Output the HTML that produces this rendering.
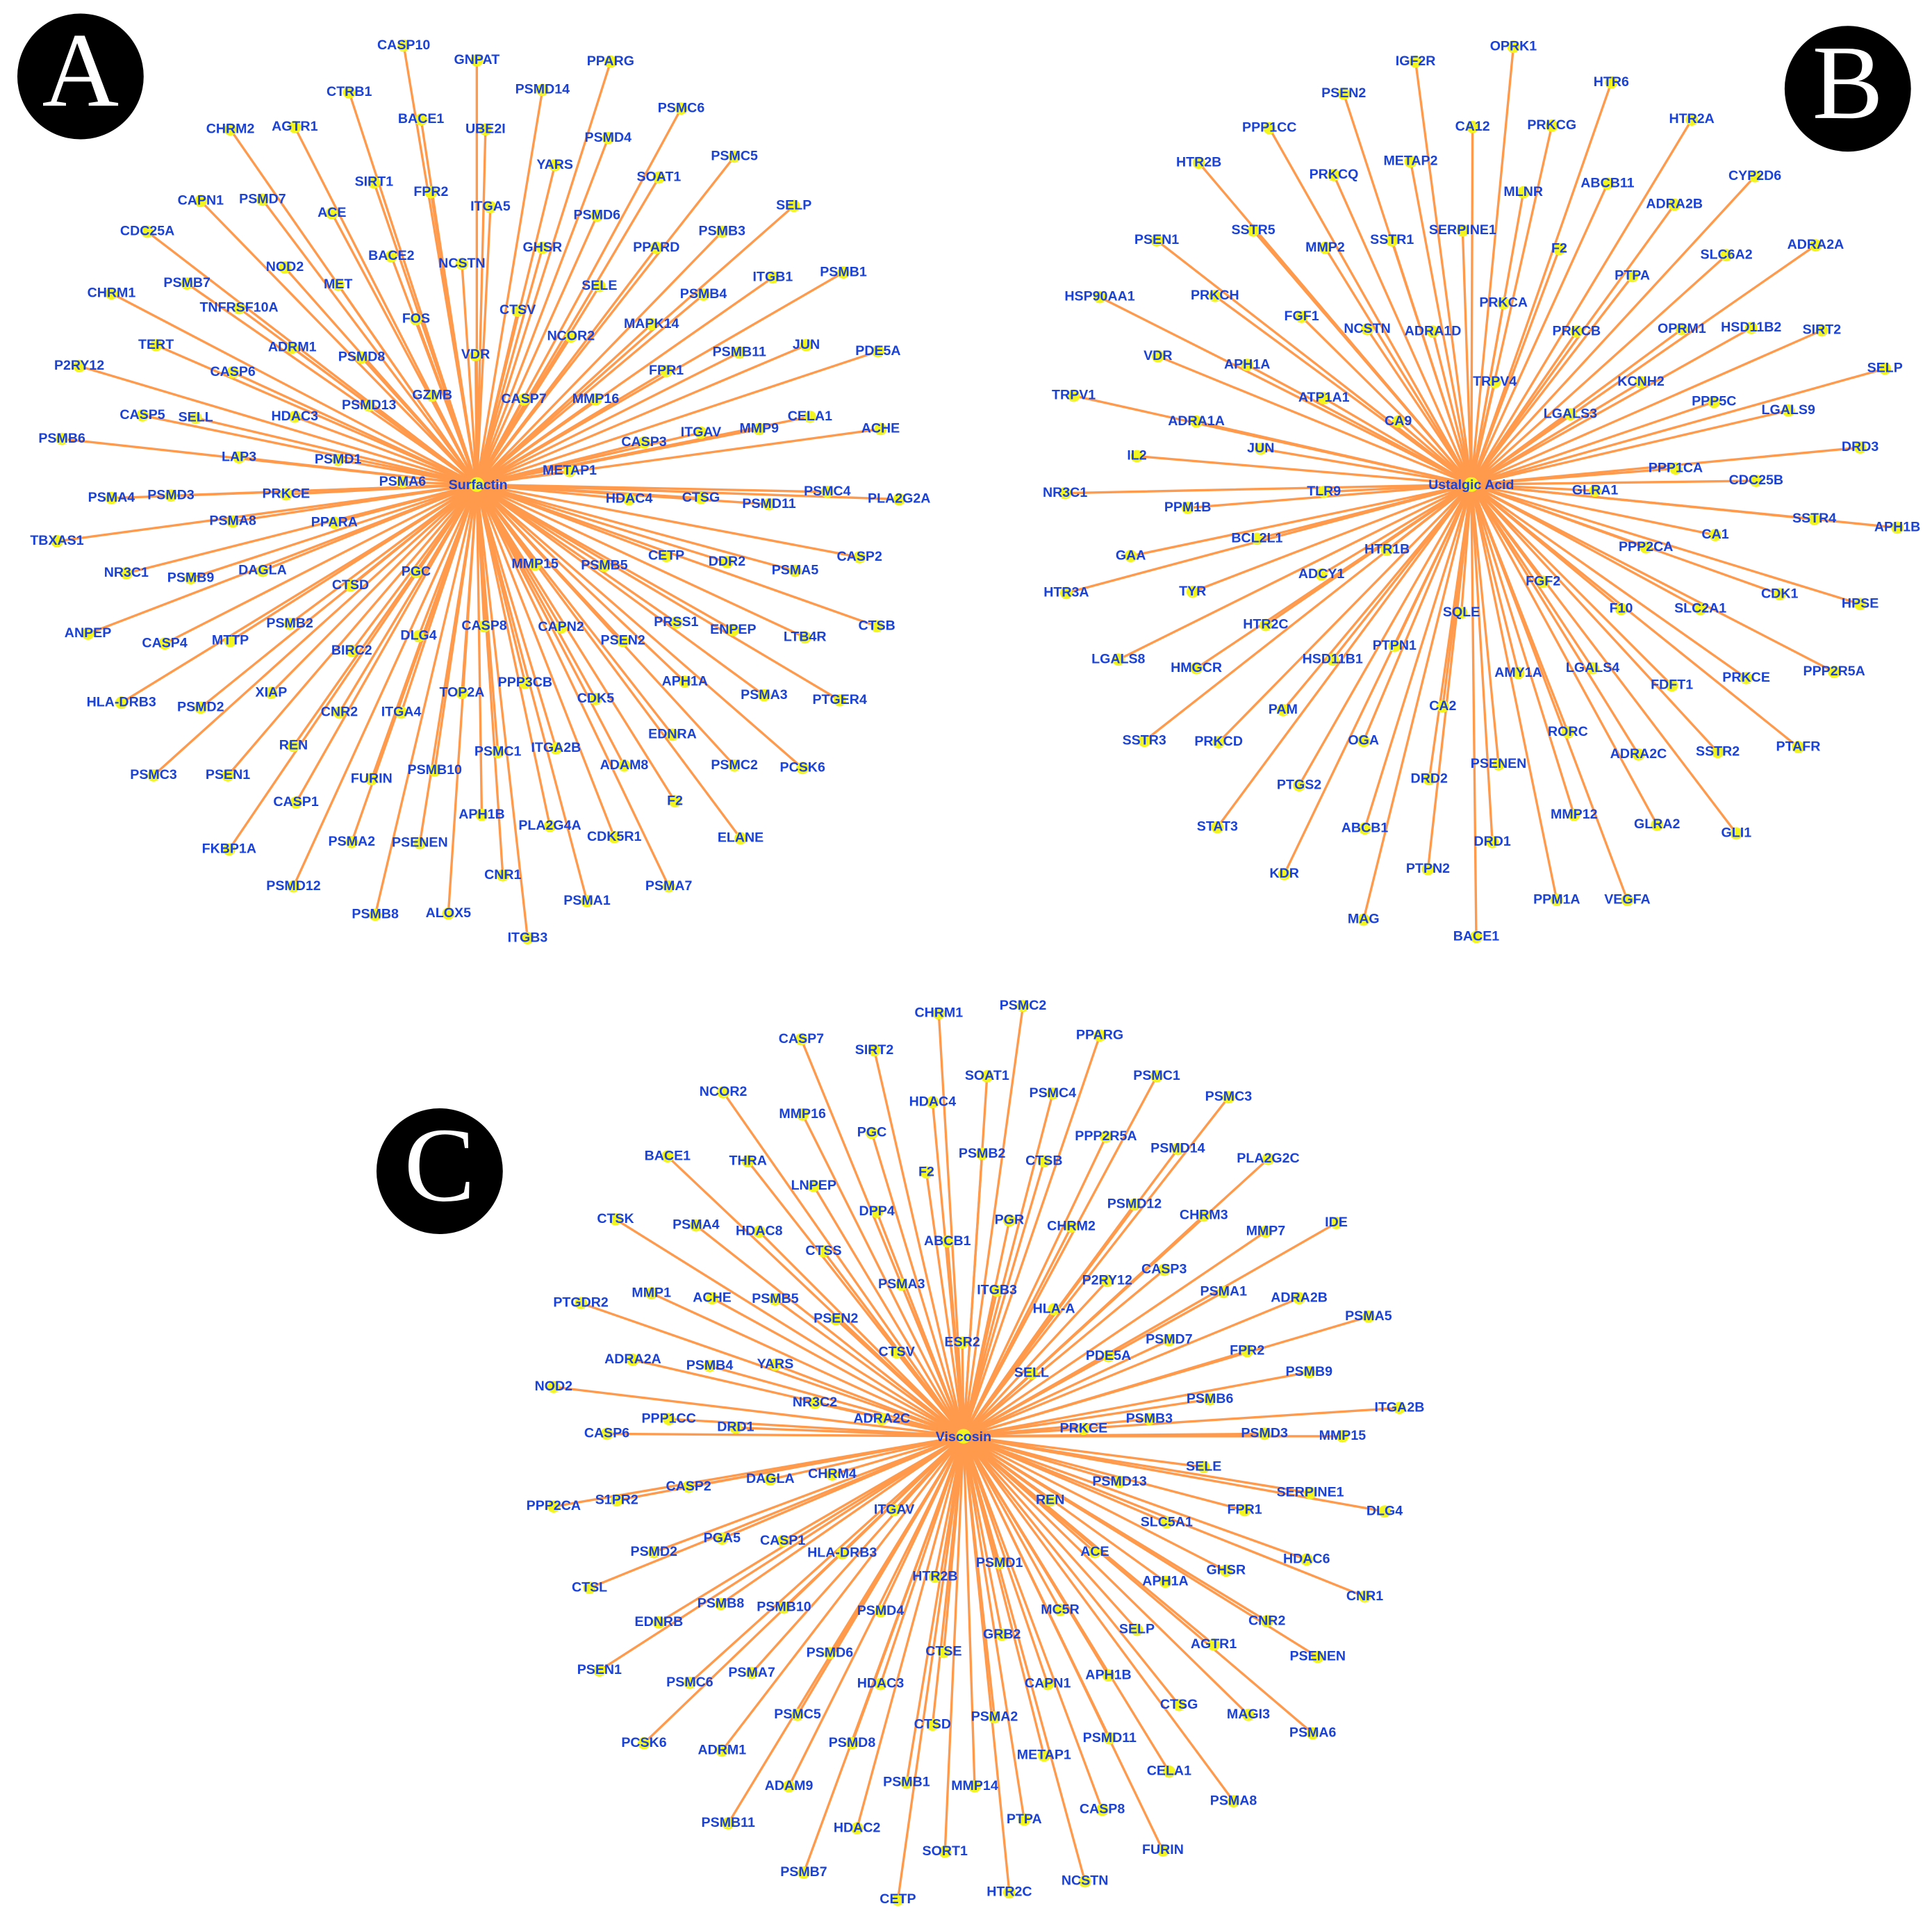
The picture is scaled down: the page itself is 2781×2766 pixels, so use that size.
<!DOCTYPE html>
<html><head><meta charset="utf-8">
<style>
html,body{margin:0;padding:0;background:#fff;}
svg{display:block;}
text{font-family:"Liberation Sans",sans-serif;font-weight:bold;font-size:11px;fill:#1b42d6;text-anchor:middle;dominant-baseline:middle;}
text.big{font-family:"Liberation Serif",serif;font-weight:normal;font-size:86px;fill:#fff;}
</style></head>
<body>
<svg id="s" width="2781" height="2766" viewBox="0 0 1560 1559" preserveAspectRatio="none" xmlns="http://www.w3.org/2000/svg">
<g id="lines" stroke="#ff9a4c" stroke-width="1.9" stroke-linecap="round"></g>
<g id="dots" fill="#f3f520"></g>
<g id="A" data-cx="385" data-cy="393">
<text x="326" y="37">CASP10</text><text x="385" y="49">GNPAT</text><text x="493" y="50">PPARG</text><text x="438" y="73">PSMD14</text><text x="282" y="75">CTRB1</text><text x="340" y="97">BACE1</text><text x="392" y="105">UBE2I</text><text x="550" y="88">PSMC6</text><text x="186" y="105">CHRM2</text><text x="238" y="103">AGTR1</text><text x="491" y="112">PSMD4</text><text x="448" y="134">YARS</text><text x="593" y="127">PSMC5</text><text x="302" y="148">SIRT1</text><text x="348" y="156">FPR2</text><text x="532" y="144">SOAT1</text><text x="162" y="163">CAPN1</text><text x="212" y="162">PSMD7</text><text x="396" y="168">ITGA5</text><text x="268" y="173">ACE</text><text x="482" y="175">PSMD6</text><text x="641" y="167">SELP</text><text x="119" y="188">CDC25A</text><text x="438" y="201">GHSR</text><text x="583" y="188">PSMB3</text><text x="316" y="208">BACE2</text><text x="373" y="214">NCSTN</text><text x="530" y="201">PPARD</text><text x="230" y="217">NOD2</text><text x="151" y="230">PSMB7</text><text x="273" y="231">MET</text><text x="484" y="232">SELE</text><text x="624" y="225">ITGB1</text><text x="681" y="221">PSMB1</text><text x="90" y="238">CHRM1</text><text x="193" y="250">TNFRSF10A</text><text x="568" y="239">PSMB4</text><text x="418" y="252">CTSV</text><text x="336" y="259">FOS</text><text x="461" y="273">NCOR2</text><text x="526" y="263">MAPK14</text><text x="126" y="280">TERT</text><text x="236" y="282">ADRM1</text><text x="292" y="290">PSMD8</text><text x="384" y="288">VDR</text><text x="651" y="280">JUN</text><text x="709" y="285">PDE5A</text><text x="64" y="297">P2RY12</text><text x="188" y="302">CASP6</text><text x="597" y="286">PSMB11</text><text x="538" y="301">FPR1</text><text x="349" y="321">GZMB</text><text x="298" y="329">PSMD13</text><text x="423" y="324">CASP7</text><text x="481" y="324">MMP16</text><text x="115" y="337">CASP5</text><text x="158" y="339">SELL</text><text x="238" y="338">HDAC3</text><text x="654" y="338">CELA1</text><text x="50" y="356">PSMB6</text><text x="566" y="351">ITGAV</text><text x="613" y="348">MMP9</text><text x="711" y="348">ACHE</text><text x="193" y="371">LAP3</text><text x="273" y="373">PSMD1</text><text x="520" y="359">CASP3</text><text x="325" y="391">PSMA6</text><text x="460" y="382">METAP1</text><text x="90" y="404">PSMA4</text><text x="138" y="402">PSMD3</text><text x="231" y="401">PRKCE</text><text x="668" y="399">PSMC4</text><text x="726" y="405">PLA2G2A</text><text x="508" y="405">HDAC4</text><text x="566" y="404">CTSG</text><text x="621" y="409">PSMD11</text><text x="188" y="423">PSMA8</text><text x="270" y="424">PPARA</text><text x="46" y="439">TBXAS1</text><text x="538" y="451">CETP</text><text x="587" y="456">DDR2</text><text x="694" y="452">CASP2</text><text x="102" y="465">NR3C1</text><text x="154" y="469">PSMB9</text><text x="212" y="463">DAGLA</text><text x="336" y="464">PGC</text><text x="432" y="458">MMP15</text><text x="488" y="459">PSMB5</text><text x="642" y="463">PSMA5</text><text x="283" y="475">CTSD</text><text x="71" y="514">ANPEP</text><text x="133" y="522">CASP4</text><text x="186" y="520">MTTP</text><text x="234" y="506">PSMB2</text><text x="338" y="516">DLG4</text><text x="391" y="508">CASP8</text><text x="453" y="509">CAPN2</text><text x="546" y="505">PRSS1</text><text x="592" y="511">ENPEP</text><text x="650" y="517">LTB4R</text><text x="708" y="508">CTSB</text><text x="284" y="528">BIRC2</text><text x="503" y="520">PSEN2</text><text x="98" y="570">HLA-DRB3</text><text x="219" y="562">XIAP</text><text x="162" y="574">PSMD2</text><text x="373" y="562">TOP2A</text><text x="424" y="554">PPP3CB</text><text x="481" y="567">CDK5</text><text x="553" y="553">APH1A</text><text x="617" y="564">PSMA3</text><text x="678" y="568">PTGER4</text><text x="274" y="578">CNR2</text><text x="324" y="578">ITGA4</text><text x="543" y="596">EDNRA</text><text x="237" y="605">REN</text><text x="300" y="632">FURIN</text><text x="351" y="625">PSMB10</text><text x="402" y="610">PSMC1</text><text x="449" y="607">ITGA2B</text><text x="504" y="621">ADAM8</text><text x="593" y="621">PSMC2</text><text x="648" y="623">PCSK6</text><text x="124" y="629">PSMC3</text><text x="184" y="629">PSEN1</text><text x="239" y="651">CASP1</text><text x="545" y="650">F2</text><text x="598" y="680">ELANE</text><text x="389" y="661">APH1B</text><text x="444" y="670">PLA2G4A</text><text x="496" y="679">CDK5R1</text><text x="185" y="689">FKBP1A</text><text x="284" y="683">PSMA2</text><text x="339" y="684">PSENEN</text><text x="237" y="719">PSMD12</text><text x="406" y="710">CNR1</text><text x="540" y="719">PSMA7</text><text x="474" y="731">PSMA1</text><text x="303" y="742">PSMB8</text><text x="362" y="741">ALOX5</text><text x="426" y="761">ITGB3</text>
</g>
<g id="B" data-cx="1188" data-cy="393">
<text x="1222" y="38">OPRK1</text><text x="1143" y="50">IGF2R</text><text x="1301" y="67">HTR6</text><text x="1085" y="76">PSEN2</text><text x="1189" y="103">CA12</text><text x="1253" y="102">PRKCG</text><text x="1366" y="97">HTR2A</text><text x="1025" y="104">PPP1CC</text><text x="968" y="132">HTR2B</text><text x="1139" y="131">METAP2</text><text x="1077" y="142">PRKCQ</text><text x="1230" y="156">MLNR</text><text x="1298" y="149">ABCB11</text><text x="1417" y="143">CYP2D6</text><text x="1012" y="187">SSTR5</text><text x="1181" y="187">SERPINE1</text><text x="1352" y="166">ADRA2B</text><text x="934" y="195">PSEN1</text><text x="1070" y="201">MMP2</text><text x="1124" y="195">SSTR1</text><text x="1259" y="202">F2</text><text x="1466" y="199">ADRA2A</text><text x="1394" y="207">SLC6A2</text><text x="1318" y="224">PTPA</text><text x="888" y="241">HSP90AA1</text><text x="981" y="240">PRKCH</text><text x="1214" y="246">PRKCA</text><text x="1051" y="257">FGF1</text><text x="1104" y="267">NCSTN</text><text x="1157" y="269">ADRA1D</text><text x="1273" y="269">PRKCB</text><text x="1358" y="267">OPRM1</text><text x="1414" y="266">HSD11B2</text><text x="1471" y="268">SIRT2</text><text x="935" y="289">VDR</text><text x="1007" y="296">APH1A</text><text x="1522" y="299">SELP</text><text x="1325" y="310">KCNH2</text><text x="1207" y="310">TRPV4</text><text x="867" y="321">TRPV1</text><text x="1069" y="323">ATP1A1</text><text x="1384" y="326">PPP5C</text><text x="1444" y="333">LGALS9</text><text x="1268" y="336">LGALS3</text><text x="966" y="342">ADRA1A</text><text x="1129" y="342">CA9</text><text x="1018" y="364">JUN</text><text x="1502" y="363">DRD3</text><text x="918" y="370">IL2</text><text x="1353" y="380">PPP1CA</text><text x="1418" y="390">CDC25B</text><text x="860" y="400">NR3C1</text><text x="1069" y="399">TLR9</text><text x="1288" y="398">GLRA1</text><text x="1465" y="421">SSTR4</text><text x="1532" y="428">APH1B</text><text x="959" y="412">PPM1B</text><text x="1015" y="437">BCL2L1</text><text x="1385" y="434">CA1</text><text x="1120" y="446">HTR1B</text><text x="1329" y="444">PPP2CA</text><text x="913" y="451">GAA</text><text x="1067" y="466">ADCY1</text><text x="1246" y="472">FGF2</text><text x="861" y="481">HTR3A</text><text x="963" y="480">TYR</text><text x="1437" y="482">CDK1</text><text x="1502" y="490">HPSE</text><text x="1309" y="494">F10</text><text x="1373" y="494">SLC2A1</text><text x="1180" y="497">SQLE</text><text x="1022" y="507">HTR2C</text><text x="1126" y="524">PTPN1</text><text x="903" y="535">LGALS8</text><text x="966" y="542">HMGCR</text><text x="1076" y="535">HSD11B1</text><text x="1286" y="542">LGALS4</text><text x="1410" y="550">PRKCE</text><text x="1481" y="545">PPP2R5A</text><text x="1226" y="546">AMY1A</text><text x="1350" y="556">FDFT1</text><text x="1165" y="573">CA2</text><text x="1036" y="576">PAM</text><text x="1266" y="594">RORC</text><text x="924" y="601">SSTR3</text><text x="984" y="602">PRKCD</text><text x="1101" y="601">OGA</text><text x="1323" y="612">ADRA2C</text><text x="1387" y="610">SSTR2</text><text x="1452" y="606">PTAFR</text><text x="1210" y="620">PSENEN</text><text x="1154" y="632">DRD2</text><text x="1049" y="637">PTGS2</text><text x="983" y="671">STAT3</text><text x="1102" y="672">ABCB1</text><text x="1271" y="661">MMP12</text><text x="1338" y="669">GLRA2</text><text x="1402" y="676">GLI1</text><text x="1205" y="683">DRD1</text><text x="1037" y="709">KDR</text><text x="1153" y="705">PTPN2</text><text x="1257" y="730">PPM1A</text><text x="1314" y="730">VEGFA</text><text x="1101" y="746">MAG</text><text x="1192" y="760">BACE1</text>
</g>
<g id="C" data-cx="778" data-cy="1165">
<text x="758" y="822">CHRM1</text><text x="826" y="816">PSMC2</text><text x="647" y="843">CASP7</text><text x="706" y="852">SIRT2</text><text x="888" y="840">PPARG</text><text x="934" y="873">PSMC1</text><text x="797" y="873">SOAT1</text><text x="992" y="890">PSMC3</text><text x="584" y="886">NCOR2</text><text x="753" y="894">HDAC4</text><text x="850" y="887">PSMC4</text><text x="648" y="904">MMP16</text><text x="704" y="919">PGC</text><text x="893" y="922">PPP2R5A</text><text x="951" y="932">PSMD14</text><text x="539" y="938">BACE1</text><text x="604" y="942">THRA</text><text x="793" y="936">PSMB2</text><text x="843" y="942">CTSB</text><text x="1024" y="940">PLA2G2C</text><text x="748" y="951">F2</text><text x="657" y="962">LNPEP</text><text x="916" y="977">PSMD12</text><text x="972" y="986">CHRM3</text><text x="497" y="989">CTSK</text><text x="562" y="994">PSMA4</text><text x="613" y="999">HDAC8</text><text x="708" y="983">DPP4</text><text x="815" y="990">PGR</text><text x="865" y="995">CHRM2</text><text x="1079" y="992">IDE</text><text x="1022" y="999">MMP7</text><text x="765" y="1007">ABCB1</text><text x="665" y="1015">CTSS</text><text x="940" y="1030">CASP3</text><text x="469" y="1057">PTGDR2</text><text x="526" y="1049">MMP1</text><text x="575" y="1053">ACHE</text><text x="626" y="1054">PSMB5</text><text x="728" y="1042">PSMA3</text><text x="805" y="1047">ITGB3</text><text x="894" y="1039">P2RY12</text><text x="988" y="1048">PSMA1</text><text x="1049" y="1053">ADRA2B</text><text x="851" y="1062">HLA-A</text><text x="675" y="1070">PSEN2</text><text x="1105" y="1068">PSMA5</text><text x="777" y="1089">ESR2</text><text x="944" y="1087">PSMD7</text><text x="511" y="1103">ADRA2A</text><text x="573" y="1108">PSMB4</text><text x="626" y="1107">YARS</text><text x="724" y="1097">CTSV</text><text x="1007" y="1096">FPR2</text><text x="895" y="1100">PDE5A</text><text x="833" y="1114">SELL</text><text x="1057" y="1113">PSMB9</text><text x="447" y="1125">NOD2</text><text x="658" y="1138">NR3C2</text><text x="977" y="1135">PSMB6</text><text x="1130" y="1142">ITGA2B</text><text x="540" y="1151">PPP1CC</text><text x="712" y="1151">ADRA2C</text><text x="594" y="1158">DRD1</text><text x="928" y="1151">PSMB3</text><text x="875" y="1159">PRKCE</text><text x="490" y="1163">CASP6</text><text x="1021" y="1163">PSMD3</text><text x="1084" y="1165">MMP15</text><text x="672" y="1196">CHRM4</text><text x="972" y="1190">SELE</text><text x="556" y="1206">CASP2</text><text x="622" y="1200">DAGLA</text><text x="904" y="1202">PSMD13</text><text x="1058" y="1211">SERPINE1</text><text x="447" y="1222">PPP2CA</text><text x="498" y="1217">S1PR2</text><text x="848" y="1217">REN</text><text x="1005" y="1225">FPR1</text><text x="1118" y="1226">DLG4</text><text x="722" y="1225">ITGAV</text><text x="942" y="1235">SLC5A1</text><text x="583" y="1248">PGA5</text><text x="632" y="1250">CASP1</text><text x="680" y="1260">HLA-DRB3</text><text x="884" y="1259">ACE</text><text x="528" y="1259">PSMD2</text><text x="1055" y="1265">HDAC6</text><text x="476" y="1288">CTSL</text><text x="807" y="1268">PSMD1</text><text x="990" y="1274">GHSR</text><text x="755" y="1279">HTR2B</text><text x="941" y="1283">APH1A</text><text x="1102" y="1295">CNR1</text><text x="532" y="1316">EDNRB</text><text x="582" y="1301">PSMB8</text><text x="633" y="1304">PSMB10</text><text x="711" y="1307">PSMD4</text><text x="856" y="1306">MC5R</text><text x="1023" y="1315">CNR2</text><text x="980" y="1334">AGTR1</text><text x="918" y="1322">SELP</text><text x="809" y="1326">GRB2</text><text x="1064" y="1344">PSENEN</text><text x="484" y="1355">PSEN1</text><text x="670" y="1341">PSMD6</text><text x="762" y="1340">CTSE</text><text x="895" y="1359">APH1B</text><text x="557" y="1365">PSMC6</text><text x="607" y="1357">PSMA7</text><text x="711" y="1366">HDAC3</text><text x="846" y="1366">CAPN1</text><text x="1008" y="1391">MAGI3</text><text x="952" y="1383">CTSG</text><text x="1060" y="1406">PSMA6</text><text x="520" y="1414">PCSK6</text><text x="644" y="1391">PSMC5</text><text x="583" y="1420">ADRM1</text><text x="688" y="1414">PSMD8</text><text x="753" y="1399">CTSD</text><text x="803" y="1393">PSMA2</text><text x="843" y="1424">METAP1</text><text x="896" y="1410">PSMD11</text><text x="944" y="1437">CELA1</text><text x="637" y="1449">ADAM9</text><text x="732" y="1446">PSMB1</text><text x="787" y="1449">MMP14</text><text x="996" y="1461">PSMA8</text><text x="890" y="1468">CASP8</text><text x="827" y="1476">PTPA</text><text x="588" y="1479">PSMB11</text><text x="692" y="1483">HDAC2</text><text x="939" y="1501">FURIN</text><text x="763" y="1502">SORT1</text><text x="815" y="1535">HTR2C</text><text x="876" y="1526">NCSTN</text><text x="649" y="1519">PSMB7</text><text x="725" y="1541">CETP</text>
</g>
<g>
<circle cx="385" cy="393" r="6" fill="#f3f520"/><text x="386" y="394">Surfactin</text>
<circle cx="1188" cy="393" r="6" fill="#f3f520"/><text x="1188" y="394">Ustalgic Acid</text>
<circle cx="778" cy="1165" r="6" fill="#f3f520"/><text x="778" y="1166">Viscosin</text>
</g>
<g>
<circle cx="65" cy="62" r="51" fill="#000"/><text class="big" x="65" y="66">A</text>
<circle cx="1492" cy="72" r="51" fill="#000"/><text class="big" x="1492" y="76">B</text>
<circle cx="355" cy="950" r="51" fill="#000"/><text class="big" x="355" y="954">C</text>
</g>
</svg>
<script>
(function(){
var ns="http://www.w3.org/2000/svg";
var L=document.getElementById("lines"),D=document.getElementById("dots");
["A","B","C"].forEach(function(id){
var g=document.getElementById(id),cx=+g.getAttribute("data-cx"),cy=+g.getAttribute("data-cy");
var ts=g.getElementsByTagName("text");
for(var i=0;i<ts.length;i++){
var x=+ts[i].getAttribute("x"),y=+ts[i].getAttribute("y");
var l=document.createElementNS(ns,"line");
l.setAttribute("x1",cx);l.setAttribute("y1",cy);l.setAttribute("x2",x);l.setAttribute("y2",y);
L.appendChild(l);
var c=document.createElementNS(ns,"circle");
c.setAttribute("cx",x);c.setAttribute("cy",y);c.setAttribute("r","5");
D.appendChild(c);
}
});
})();
</script>
</body></html>
